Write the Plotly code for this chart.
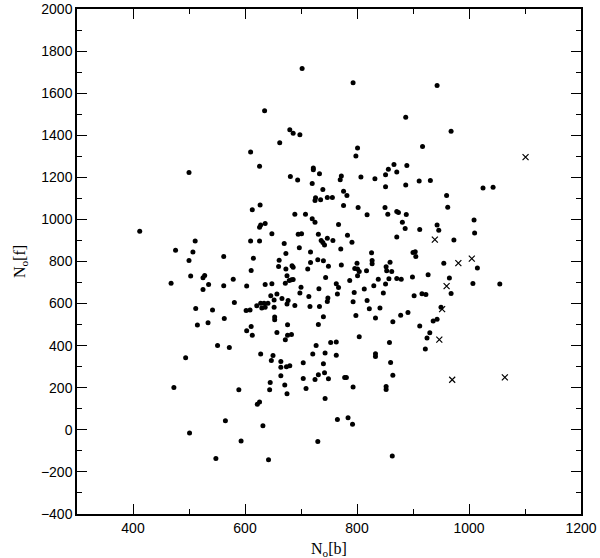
import plotly.graph_objects as go

# N_o[b] / N_o[f] values (dots)
nb_dots = [
    635, 610, 626, 500, 702, 793, 887, 680, 686, 698, 662, 801, 798, 722, 722,
    681, 694, 733, 720, 739, 772, 770, 776, 807, 832, 851, 851, 856, 866, 871,
    889, 887, 943, 968, 917, 911, 931, 1025, 1043,
    412, 627, 613, 626, 628, 636, 648, 511, 610, 626, 476, 507, 500, 562, 615,
    611, 503, 528, 525, 468, 535, 525, 579, 562, 603, 636, 648, 646, 652, 581,
    621, 628, 634, 641, 630, 636, 652, 512, 542, 602, 609, 563, 515, 534, 611,
    726, 725, 735, 747, 756, 782, 776, 802, 818, 850, 855, 871, 874, 888, 881,
    886, 871, 689, 708, 720, 725, 767, 695, 701, 731, 783, 736, 739, 742, 747,
    757, 791, 670, 697, 771, 673, 717, 826, 661, 730, 740, 717, 827, 827, 800,
    660, 684, 686, 673, 712, 749, 772, 796, 801, 804, 817, 852, 859, 853, 862,
    675, 744, 801, 672, 679, 683, 686, 700, 732, 763, 767, 787, 838, 851, 857,
    871, 879, 830, 813, 795, 847, 657, 698, 714, 748, 747, 765, 818, 793, 666,
    677, 675, 689, 716, 733, 822, 841, 891, 878, 740, 798, 833, 653, 653, 864,
    676, 731,
    960, 962, 1009, 1010, 943, 946, 912, 973, 900, 904, 905, 955, 1015, 899,
    927, 965, 1007, 1055, 902, 916, 923, 968, 950, 912, 936, 943,
    930, 925, 922,
    603, 613, 551, 572, 494, 628, 650, 647, 473, 589, 645, 644, 622, 626, 565,
    632, 501, 593, 548, 642,
    657, 676, 683, 672, 727, 753, 763, 804, 858, 721, 743, 763, 833, 833, 664,
    664, 674, 680, 704, 740, 860, 664, 704, 731, 742, 725, 749, 778, 781, 864,
    671, 675, 709, 793, 852, 852, 743, 765, 784, 792, 730, 863,
]
nf_dots = [
    1516, 1320, 1253, 1223, 1717, 1650, 1486, 1426, 1410, 1402, 1364, 1339, 1301, 1244, 1236,
    1204, 1187, 1217, 1171, 1142, 1206, 1188, 1134, 1201, 1193, 1155, 1212, 1239, 1261, 1225,
    1256, 1164, 1636, 1419, 1346, 1183, 1185, 1149, 1153,
    944, 1068, 1046, 963, 973, 980, 932, 897, 898, 897, 854, 845, 805, 824, 816,
    757, 731, 734, 723, 697, 691, 667, 716, 685, 683, 691, 694, 637, 617, 605,
    590, 601, 601, 601, 579, 582, 583, 577, 569, 567, 569, 529, 498, 509, 491,
    1103, 1090, 1093, 1104, 1104, 1114, 1066, 1057, 1022, 1057, 1025, 1038, 1033, 1023, 987,
    957, 916, 1025, 1025, 1003, 987, 976, 930, 932, 930, 925, 900, 890, 879, 911,
    900, 892, 886, 865, 859, 838, 845, 841, 806, 808, 803, 795, 805, 789, 792,
    776, 780, 773, 764, 764, 778, 783, 767, 764, 753, 756, 775, 797, 756, 752,
    732, 724, 732, 697, 710, 713, 714, 678, 670, 694, 676, 710, 716, 693, 718,
    719, 716, 685, 669, 653, 650, 645, 650, 634, 626, 610, 645, 615, 609, 624,
    615, 598, 591, 586, 586, 575, 579, 558, 545, 537, 543, 531, 536, 523, 514,
    499, 501,
    1114, 1058, 997, 936, 974, 949, 952, 902, 843, 846, 824, 792, 769, 726,
    737, 721, 695, 693, 637, 647, 643, 648, 582, 493, 517, 526,
    461, 436, 384,
    471, 450, 401, 391, 343, 360, 353, 330, 201, 190, 225, 190, 121, 132, 43,
    19, -15, -53, -136, -142,
    463, 450, 453, 428, 401, 415, 417, 442, 415, 360, 365, 355, 362, 349, 325,
    298, 300, 305, 319, 314, 320, 257, 244, 262, 271, 239, 243, 249, 249, 260,
    213, 171, 197, 203, 206, 192, 149, 49, 57, 26, -55, -124,
]

# the few objects drawn as crosses
nb_cross = [1101, 939, 981, 1005, 960, 952, 947, 970, 1064]
nf_cross = [1296, 904, 792, 814, 683, 574, 429, 238, 249]

x_title = "N<sub>o</sub>[b]"
y_title = "N<sub>o</sub>[f]"

fig = go.Figure()
fig.add_trace(go.Scatter(x=nb_dots, y=nf_dots, mode="markers",
                         marker=dict(symbol="circle", size=5, color="black")))
fig.add_trace(go.Scatter(x=nb_cross, y=nf_cross, mode="markers",
                         marker=dict(symbol="x-thin", size=6, color="black",
                                     line=dict(width=1.2, color="black"))))

axis_style = dict(
    showline=True, linecolor="black", linewidth=1.5, mirror="ticks",
    ticks="inside", ticklen=10, tickwidth=1.2, tickcolor="black",
    showgrid=False, zeroline=False, automargin=False,
    tickfont=dict(family="Liberation Sans", size=14, color="black"),
    minor=dict(ticks="inside", ticklen=5, tickwidth=1.2, tickcolor="black", showgrid=False),
)

fig.update_xaxes(range=[300, 1200], tick0=0, dtick=200, minor_dtick=100, **axis_style)
fig.update_yaxes(range=[-400, 2000], tick0=0, dtick=200, minor_dtick=100, **axis_style)

title_font = dict(family="Liberation Serif", size=16, color="black")
fig.add_annotation(text=x_title, xref="paper", yref="paper", x=0.5, y=-0.071,
                   xanchor="center", yanchor="middle", showarrow=False, font=title_font)
fig.add_annotation(text=y_title, xref="paper", yref="paper", x=-0.112, y=0.5,
                   xanchor="center", yanchor="middle", textangle=-90,
                   showarrow=False, font=title_font)

fig.update_layout(
    width=600, height=558,
    margin=dict(l=77, r=19, t=9, b=44),
    plot_bgcolor="white", paper_bgcolor="white",
    showlegend=False,
)

fig.write_html("out.html", config={"displayModeBar": False},
               post_script="document.body.style.margin='0';")
